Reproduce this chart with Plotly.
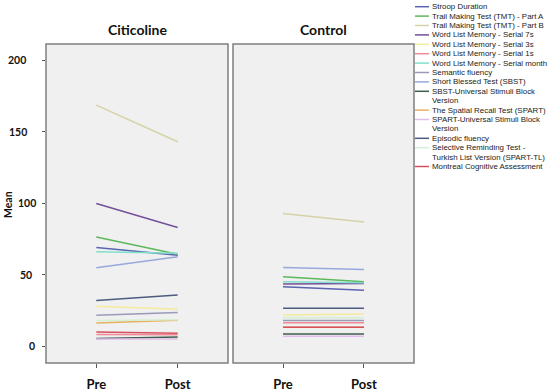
import plotly.graph_objects as go

# ---------------- data ----------------
TIMEPOINTS = ["Pre", "Post"]
PANELS = ["Citicoline", "Control"]
Y_TICKS = [0, 50, 100, 150, 200]
Y_TICK_LABELS = ["0", "50", "100", "150", "200"]

SERIES = [
    "Stroop Duration",
    "Trail Making Test (TMT) - Part A",
    "Trail Making Test (TMT) - Part B",
    "Word List Memory - Serial 7s",
    "Word List Memory - Serial 3s",
    "Word List Memory - Serial 1s",
    "Word List Memory - Serial month",
    "Semantic fluency",
    "Short Blessed Test (SBST)",
    "SBST-Universal Stimuli Block<br>Version",
    "The Spatial Recall Test (SPART)",
    "SPART-Universal Stimuli Block<br>Version",
    "Episodic fluency",
    "Selective Reminding Test -<br>Turkish List Version (SPART-TL)",
    "Montreal Cognitive Assessment",
]
COLORS = [
    "#5a64b0", "#5cb85c", "#d6d2a8", "#74509a", "#f2ec9c",
    "#f08a96", "#80e0cc", "#9a9ab8", "#98a8dc", "#3d5e4a",
    "#e8b060", "#e0bcec", "#4c5c80", "#d4f0d4", "#d85060",
]
CITI_PRE = [69.0, 76.4, 168.5, 99.8, 28.0, 8.2, 66.0, 21.7, 54.8, 5.4, 16.3, 5.0, 32.0, 18.0, 10.0]
CITI_POST = [63.6, 64.3, 142.9, 83.0, 25.9, 8.0, 65.0, 23.6, 62.5, 6.5, 18.2, 5.1, 35.9, 18.5, 9.1]
CTRL_PRE = [41.5, 48.6, 92.8, 43.5, 21.9, 16.5, 45.0, 18.0, 55.0, 8.6, 13.3, 7.0, 26.5, 20.0, 13.3]
CTRL_POST = [39.2, 45.0, 86.9, 43.8, 22.6, 16.5, 44.3, 18.0, 53.6, 8.6, 13.3, 7.0, 26.5, 20.0, 13.3]

# ---------------- figure ----------------
W, H = 550, 392
ML, MR, MT, MB = 46, 136, 44, 29
PW, PH = W - ML - MR, H - MT - MB

def px_x(p):
    return (p - ML) / PW

def px_y(p):
    return (H - MB - p) / PH

fig = go.Figure()
for i, name in enumerate(SERIES):
    fig.add_trace(go.Scatter(x=TIMEPOINTS, y=[CITI_PRE[i], CITI_POST[i]], mode="lines",
                             line=dict(color=COLORS[i], width=1.5), name=name.replace("<br>", " "),
                             xaxis="x", yaxis="y", showlegend=False, hoverinfo="name+y"))
    fig.add_trace(go.Scatter(x=TIMEPOINTS, y=[CTRL_PRE[i], CTRL_POST[i]], mode="lines",
                             line=dict(color=COLORS[i], width=1.5), name=name.replace("<br>", " "),
                             xaxis="x2", yaxis="y", showlegend=False, hoverinfo="name+y"))

bold = dict(family="Lato, 'DejaVu Sans', sans-serif", color="#111111", weight="bold")

xcommon = dict(type="category", range=[-0.618, 1.618], showgrid=False, zeroline=False,
               showline=False, ticks="outside", ticklen=4, tickcolor="#555555", tickwidth=1,
               tickfont=dict(size=13, **bold), ticklabelstandoff=5, automargin=False)
fig.update_layout(
    width=W, height=H,
    margin=dict(l=ML, r=MR, t=MT, b=MB, pad=0, autoexpand=False),
    paper_bgcolor="white", plot_bgcolor="white",
    xaxis=dict(domain=[0, (228 - ML) / PW], anchor="y", **xcommon),
    xaxis2=dict(domain=[(233 - ML) / PW, 1], anchor="y", **xcommon),
    yaxis=dict(range=[-11.7, 211.2], tickvals=Y_TICKS, showticklabels=False, showgrid=False,
               zeroline=False, showline=False, ticks="outside", ticklen=3, tickcolor="#555555",
               automargin=False),
    showlegend=False,
)

# y tick labels (placed like the original, slightly staggered)
LABEL_RIGHT_PX = [36, 33, 37, 28, 27]
for v, lab, rx in zip(Y_TICKS, Y_TICK_LABELS, LABEL_RIGHT_PX):
    fig.add_annotation(xref="paper", yref="y", x=px_x(rx), y=v, text=lab, showarrow=False,
                       xanchor="right", yanchor="middle", borderpad=0, font=dict(size=10.5, **bold))

# panel frames
for xr in ["x domain", "x2 domain"]:
    fig.add_shape(type="rect", xref=xr, yref="y domain", x0=0, x1=1, y0=0, y1=1,
                  fillcolor="#f0f0f0", line=dict(color="#7f7f7f", width=1.5), layer="below")

# panel titles
for xr, title in zip(["x domain", "x2 domain"], PANELS):
    fig.add_annotation(xref=xr, yref="paper", x=0.5, y=px_y(29), text=title, showarrow=False,
                       xanchor="center", yanchor="middle", font=dict(size=14, **bold))

# y title
fig.add_annotation(xref="paper", yref="paper", x=px_x(8), y=px_y(205), text="Mean", textangle=-90,
                   showarrow=False, xanchor="center", yanchor="middle", font=dict(size=10.5, **bold))

# legend (drawn manually to match compact spacing)
line_no = 0
LINE_H = 9.4
Y0 = 6.7
for i, name in enumerate(SERIES):
    parts = name.split("<br>")
    yc = Y0 + LINE_H * line_no
    fig.add_shape(type="line", xref="paper", yref="paper", x0=px_x(415), x1=px_x(429),
                  y0=px_y(yc), y1=px_y(yc), line=dict(color=COLORS[i], width=1.5))
    for part in parts:
        yl = Y0 + LINE_H * line_no
        fig.add_annotation(xref="paper", yref="paper", x=px_x(431), y=px_y(yl), text=part,
                           showarrow=False, xanchor="left", yanchor="middle", borderpad=0,
                           font=dict(size=7.9, family="'Liberation Sans', Arial, sans-serif", color="#222222"))
        line_no += 1

fig.write_html("out.html", config={"displayModeBar": False},
               post_script="document.body.style.margin='0px';document.body.style.padding='0px';")
